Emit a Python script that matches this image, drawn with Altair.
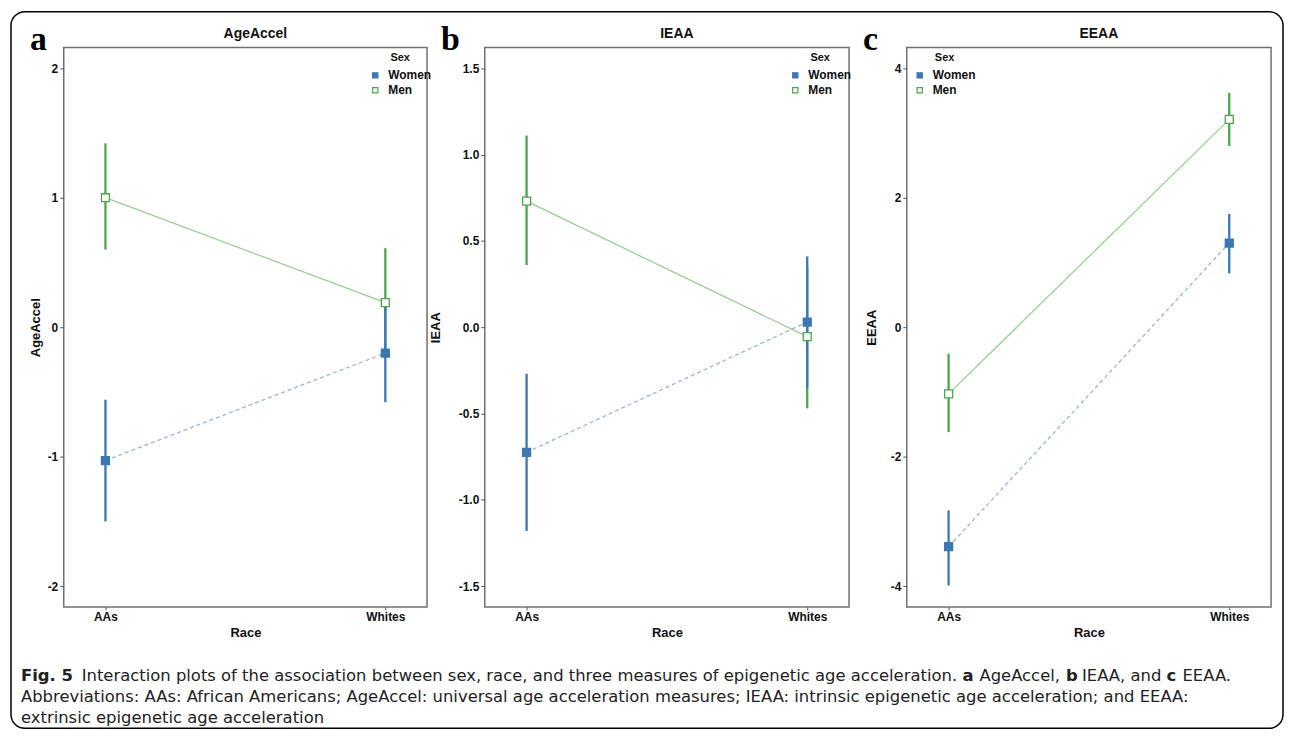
import altair as alt
import pandas as pd

# ---------------- data ----------------
races = ["AAs", "Whites"]
sexes = ["Women", "Men"]
panel_names = ["AgeAccel", "IEAA", "EEAA"]
panel_letters = ["a", "b", "c"]

# rows: Men AAs, Men Whites, Women AAs, Women Whites
row_sex = ["Men", "Men", "Women", "Women"]
row_race = ["AAs", "Whites", "AAs", "Whites"]

ageaccel_mean = [1.00, 0.19, -1.03, -0.20]
ageaccel_lo = [0.60, -0.23, -1.50, -0.58]
ageaccel_hi = [1.42, 0.61, -0.56, 0.18]

ieaa_mean = [0.73, -0.055, -0.725, 0.03]
ieaa_lo = [0.36, -0.47, -1.18, -0.35]
ieaa_hi = [1.11, 0.35, -0.27, 0.41]

eeaa_mean = [-1.03, 3.21, -3.39, 1.30]
eeaa_lo = [-1.62, 2.80, -3.99, 0.83]
eeaa_hi = [-0.41, 3.62, -2.83, 1.75]

y_domains = [[-2.16, 2.16], [-1.62, 1.62], [-4.32, 4.32]]
y_ticks = [[-2, -1, 0, 1, 2], [-1.5, -1.0, -0.5, 0.0, 0.5, 1.0, 1.5], [-4, -2, 0, 2, 4]]
y_formats = ["d", ".1f", "d"]

caption_line1 = [
    ("Fig. 5", True),
    ("Interaction plots of the association between sex, race, and three measures of epigenetic age acceleration.", False),
    ("a", True),
    ("AgeAccel,", False),
    ("b", True),
    ("IEAA, and", False),
    ("c", True),
    ("EEAA.", False),
]
caption_line2 = ("Abbreviations: AAs: African Americans; AgeAccel: universal age acceleration measures; "
                 "IEAA: intrinsic epigenetic age acceleration; and EEAA:")
caption_line3 = "extrinsic epigenetic age acceleration"

# ---------------- style ----------------
BLUE = "#3a77b3"
GREEN = "#4aa64a"
BLUE_LINE = "#9ab6d4"
GREEN_LINE = "#98cf92"
FONT = "Liberation Sans"
CAP_FONT = "DejaVu Sans"
CAP_SIZE = 16.5
W = [365, 366, 366]
H = 562

means = [ageaccel_mean, ieaa_mean, eeaa_mean]
los = [ageaccel_lo, ieaa_lo, eeaa_lo]
his = [ageaccel_hi, ieaa_hi, eeaa_hi]

# layout tweaks per panel (pixel offsets relative to plot area)
letter_x = [-34, -44, -44]
ytitle_x = [-28, -49, -35]
legend_x = [307, 306, 7]


def make_panel(i):
    df = pd.DataFrame({
        "Race": row_race,
        "Sex": row_sex,
        "mean": means[i],
        "lo": los[i],
        "hi": his[i],
    })
    xenc = alt.X("Race:N", scale=alt.Scale(type="point", domain=races, padding=0.149),
                 axis=alt.Axis(title="Race", labelAngle=0, tickSize=3, titlePadding=4))
    yscale = alt.Scale(domain=y_domains[i], nice=False, zero=False)
    yaxis = alt.Axis(values=y_ticks[i], format=y_formats[i], title=panel_names[i],
                     labelExpr="replace(datum.label, '\u2212', '-')",
                     titleX=ytitle_x[i], titleY=H / 2, titleBaseline="middle", titleAlign="center")
    cscale = alt.Scale(domain=sexes, range=[BLUE, GREEN])
    leg = alt.Legend(orient="none", legendX=legend_x[i], legendY=5, title="Sex")

    base = alt.Chart(df)
    men = base.transform_filter(alt.datum.Sex == "Men")
    women = base.transform_filter(alt.datum.Sex == "Women")

    line_m = men.mark_line(strokeWidth=1.3, color=GREEN_LINE).encode(
        x=xenc, y=alt.Y("mean:Q", scale=yscale, axis=yaxis))
    line_w = women.mark_line(strokeWidth=1.3, color=BLUE_LINE, strokeDash=[4, 3]).encode(
        x=xenc, y=alt.Y("mean:Q", scale=yscale, axis=yaxis))
    bar_m = men.mark_rule(strokeWidth=2.3, color=GREEN).encode(
        x=xenc, y=alt.Y("lo:Q", scale=yscale, axis=yaxis), y2="hi:Q")
    bar_w = women.mark_rule(strokeWidth=2.3, color=BLUE).encode(
        x=xenc, y=alt.Y("lo:Q", scale=yscale, axis=yaxis), y2="hi:Q")
    pts = base.mark_point(shape="square", size=64, filled=False, strokeWidth=1.3, opacity=1).encode(
        x=xenc,
        y=alt.Y("mean:Q", scale=yscale, axis=yaxis),
        color=alt.Color("Sex:N", scale=cscale, legend=leg),
        fill=alt.Fill("Sex:N", scale=alt.Scale(domain=sexes, range=[BLUE, "white"]), legend=leg),
    )
    letter = alt.Chart(pd.DataFrame({"L": [panel_letters[i]]})).mark_text(
        font="Liberation Serif", fontSize=34, fontWeight="bold", align="left",
        baseline="alphabetic", color="black"
    ).encode(x=alt.value(letter_x[i]), y=alt.value(2), text="L:N")
    title = alt.Chart(pd.DataFrame({"T": [panel_names[i]]})).mark_text(
        font=FONT, fontSize=14, fontWeight="bold", align="center",
        baseline="alphabetic", color="#111"
    ).encode(x=alt.value(W[i] / 2 + 10), y=alt.value(-10), text="T:N")

    layers = [line_m, line_w, bar_m, bar_w, pts, letter, title]

    if i == 0:
        frame = alt.Chart(pd.DataFrame({"k": [0]})).mark_rect(
            fillOpacity=0, stroke="black", strokeWidth=1.5, cornerRadius=14
        ).encode(x=alt.value(-53), x2=alt.value(1225), y=alt.value(-36), y2=alt.value(684))
        layers.append(frame)
        seg_x = [-43, 18, 903, 920, 1007, 1023, 1108, 1124]
        for (txt, bold), sx in zip(caption_line1, seg_x):
            layers.append(
                alt.Chart(pd.DataFrame({"t": [txt]})).mark_text(
                    font=CAP_FONT, fontSize=CAP_SIZE, fontWeight="bold" if bold else "normal",
                    align="left", baseline="middle", color="#222"
                ).encode(x=alt.value(sx), y=alt.value(631), text="t:N")
            )
        for txt, yy in [(caption_line2, 653), (caption_line3, 674)]:
            layers.append(
                alt.Chart(pd.DataFrame({"t": [txt]})).mark_text(
                    font=CAP_FONT, fontSize=CAP_SIZE, align="left", baseline="middle", color="#222"
                ).encode(x=alt.value(-43), y=alt.value(yy), text="t:N")
            )

    return alt.layer(*layers).properties(width=W[i], height=H)


panels = [make_panel(i) for i in range(3)]

chart = alt.hconcat(*panels, spacing=58, bounds="flush").resolve_scale(
    x="independent", y="independent", color="independent", fill="independent"
).resolve_legend(color="independent", fill="independent").properties(
    padding={"left": 1, "top": 0, "right": 0, "bottom": 0}
).configure_view(
    stroke="#707070", strokeWidth=1.5
).configure_axis(
    labelFont=FONT, labelFontWeight="bold", labelFontSize=12, labelColor="#111",
    titleFont=FONT, titleFontWeight="bold", titleFontSize=13, titleColor="#111",
    tickColor="#555", tickSize=4, domain=False, grid=False, labelPadding=2,
).configure_legend(
    titleFont=FONT, titleFontWeight="bold", titleFontSize=11, titleColor="#111",
    labelFont=FONT, labelFontWeight="bold", labelFontSize=12, labelColor="#111",
    symbolType="square", symbolSize=28, symbolStrokeWidth=1.2, labelOffset=7,
    rowPadding=3, titlePadding=6, padding=0, titleAnchor="middle",
)

chart.save("out.html", embed_options={"renderer": "svg", "actions": False})
